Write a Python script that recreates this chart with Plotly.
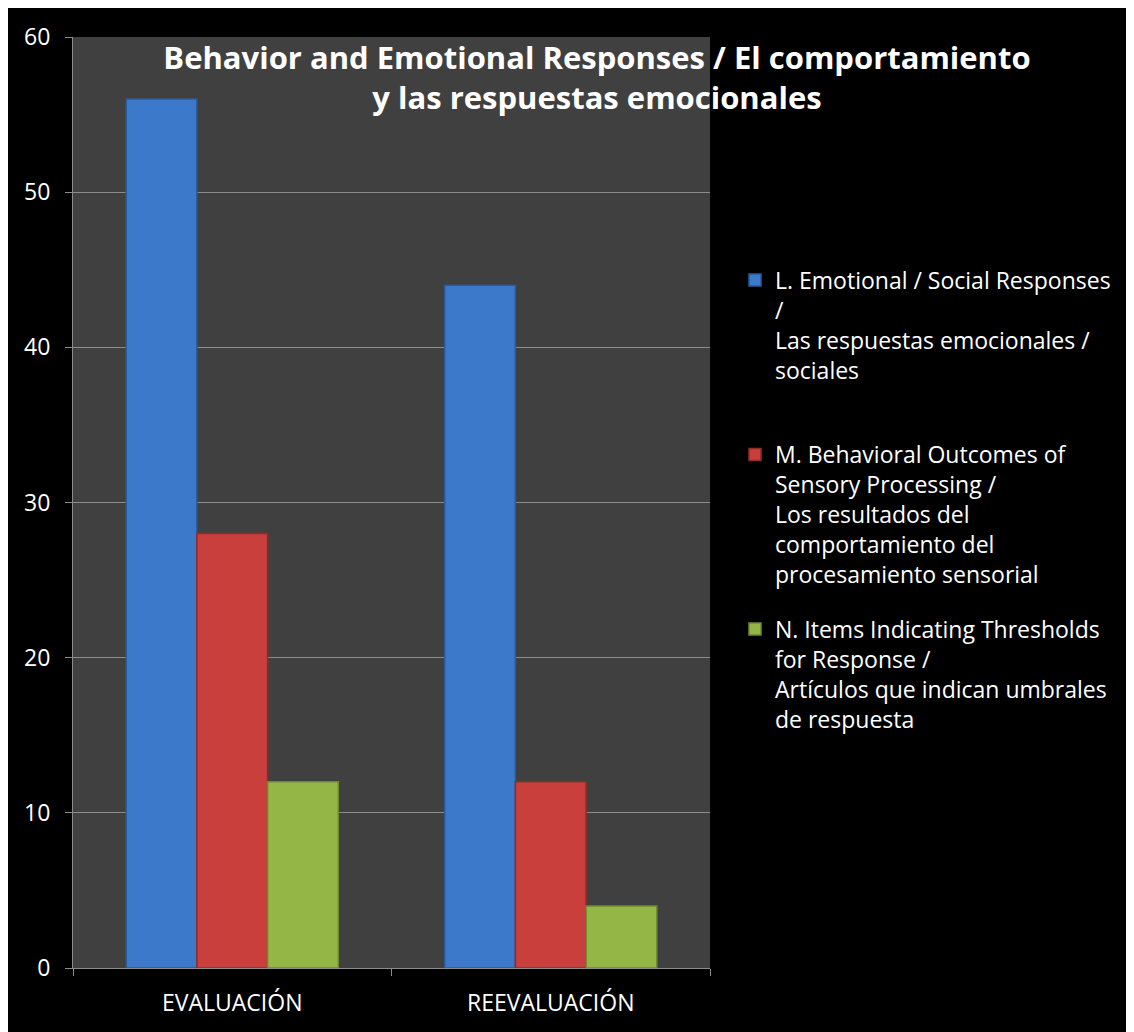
import plotly.graph_objects as go

categories = ["EVALUACIÓN", "REEVALUACIÓN"]
series_names = [
    "L. Emotional / Social Responses<br>/<br>Las respuestas emocionales /<br>sociales<br> ",
    "M. Behavioral Outcomes of<br>Sensory Processing /<br>Los resultados del<br>comportamiento del<br>procesamiento sensorial",
    "N. Items Indicating Thresholds<br>for Response /<br>Artículos que indican umbrales<br>de respuesta",
]
emotional_social = [56, 44]
behavioral_outcomes = [28, 12]
thresholds = [12, 4]
y_ticks = [0, 10, 20, 30, 40, 50, 60]

colors = ["#3C79CA", "#C83F3C", "#93B646"]
edge_colors = ["#2A5A99", "#8F2B29", "#6C8A30"]
values = [emotional_social, behavioral_outcomes, thresholds]

FONT = "Open Sans"
OFF = 8  # page body margin offset

fig = go.Figure()
for i, (name, vals) in enumerate(zip(series_names, values)):
    fig.add_trace(go.Bar(
        x=categories, y=vals, name=name,
        marker=dict(color=colors[i], line=dict(color=edge_colors[i], width=1.5)),
        legendgroup=f"g{i}",
    ))

fig.update_layout(
    width=1134, height=1032,
    paper_bgcolor="black", plot_bgcolor="#404040",
    margin=dict(l=73 - OFF, r=1134 - 710 + OFF, t=35 - OFF, b=1032 - 968 + OFF),
    barmode="group", bargap=0.334, bargroupgap=0,
    font=dict(family=FONT, color="white", size=22),
    title=dict(
        text="<b>Behavior and Emotional Responses / El comportamiento<br>y las respuestas emocionales</b>",
        x=(597 - OFF) / 1134, xanchor="center", xref="container",
        y=1 - (69 - OFF) / 1032, yanchor="top", yref="container",
        font=dict(family=FONT, size=31, color="white"),
    ),
    legend=dict(
        x=(735 - 73) / 637, xanchor="left", y=(968 - 257) / 933, yanchor="top",
        font=dict(family=FONT, size=23, color="white"),
        valign="top", tracegroupgap=22, bgcolor="rgba(0,0,0,0)",
    ),
    showlegend=True,
)
fig.update_xaxes(
    showline=True, linecolor="#8C8C8C", linewidth=1,
    ticks="outside", tickson="boundaries", ticklen=7, tickcolor="#8C8C8C",
    tickfont=dict(family=FONT, size=23, color="white"),
    ticklabelstandoff=14,
    showgrid=False,
)
fig.update_yaxes(
    range=[0, 60], tickvals=y_ticks,
    showline=True, linecolor="#8C8C8C", linewidth=1,
    ticks="outside", ticklen=7, tickcolor="#8C8C8C",
    gridcolor="#8C8C8C", gridwidth=1, zeroline=False,
    tickfont=dict(family=FONT, size=23, color="white"),
    ticklabelstandoff=10,
)

fig.write_html("out.html")
